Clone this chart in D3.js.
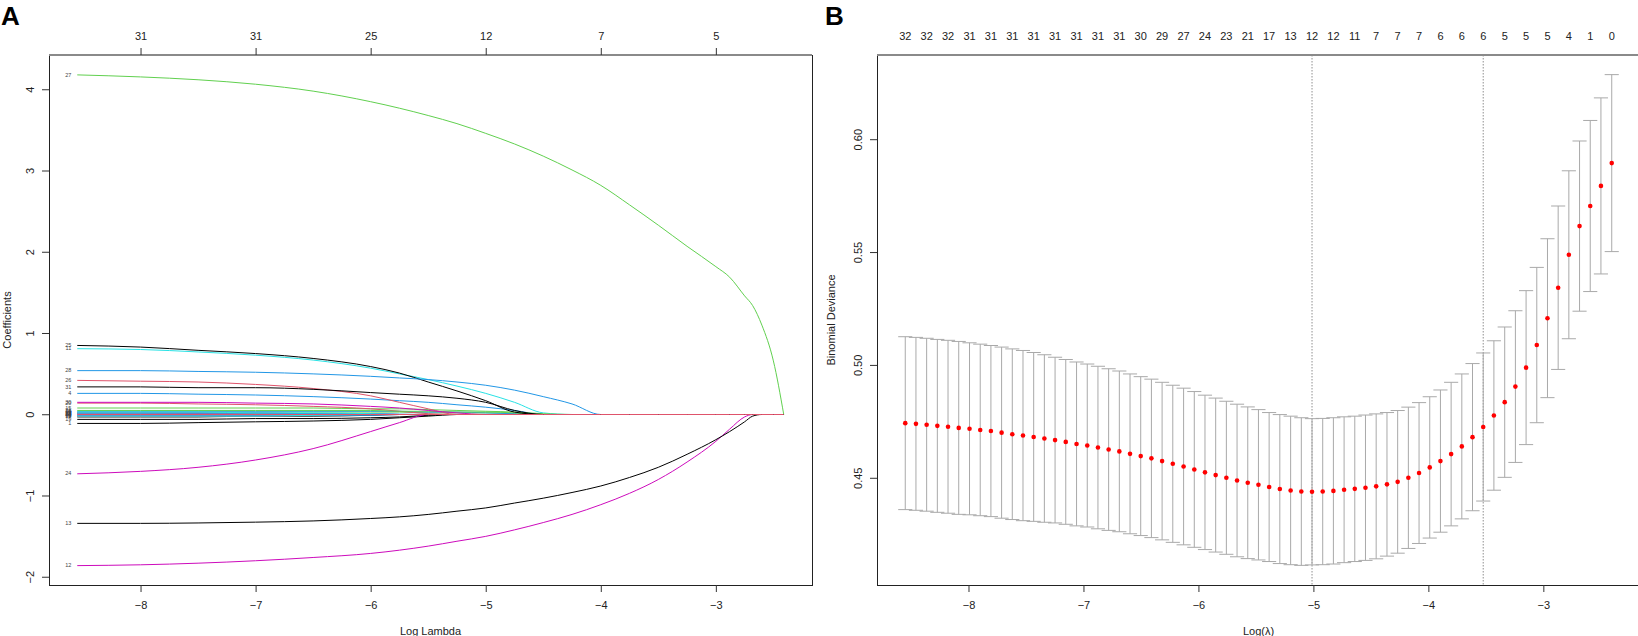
<!DOCTYPE html>
<html><head><meta charset="utf-8">
<script src="https://cdn.jsdelivr.net/npm/d3@7"></script>
<style>body{margin:0;background:#fff}svg{display:block}</style>
</head><body><svg id="c" width="1638" height="636"></svg>
<script>
// ---------------- DATA ----------------
// Panel A: coefficient paths (glmnet), log(lambda) knots
const logLambdaA = [-8.55,-8,-7.5,-7,-6.5,-6,-5.75,-5.5,-5.25,-5,-4.75,-4.5,-4.25,-4,-3.75,-3.5,-3.25,-3,-2.88,-2.75,-2.68,-2.6,-2.5,-2.41];
const varNames = ["1","2","3","4","5","6","7","8","9","10","11","12","13","14","15","16","17","18","19","20","21","22","23","24","25","26","27","28","29","30","31","32"];
const coefPaths = [
 [-0.11,-0.11,-0.10,-0.09,-0.08,-0.06,-0.04,-0.02,0,0,0,0,0,0,0,0,0,0,0,0,0,0,0,0],
 [0.01,0.01,0.01,0.01,0.01,0.005,0,0,0,0,0,0,0,0,0,0,0,0,0,0,0,0,0,0],
 [0.01,0.01,0.01,0.01,0,0,0,0,0,0,0,0,0,0,0,0,0,0,0,0,0,0,0,0],
 [0.26,0.26,0.25,0.24,0.22,0.19,0.17,0.15,0.12,0.09,0.05,0,0,0,0,0,0,0,0,0,0,0,0,0],
 [0.01,0.01,0.01,0.005,0,0,0,0,0,0,0,0,0,0,0,0,0,0,0,0,0,0,0,0],
 [-0.01,-0.01,-0.01,-0.01,-0.005,0,0,0,0,0,0,0,0,0,0,0,0,0,0,0,0,0,0,0],
 [-0.03,-0.03,-0.03,-0.02,-0.02,-0.01,0,0,0,0,0,0,0,0,0,0,0,0,0,0,0,0,0,0],
 [-0.02,-0.02,-0.02,-0.02,-0.01,0,0,0,0,0,0,0,0,0,0,0,0,0,0,0,0,0,0,0],
 [0.03,0.03,0.03,0.03,0.03,0.03,0.03,0.02,0.02,0.02,0.01,0,0,0,0,0,0,0,0,0,0,0,0,0],
 [0.04,0.04,0.04,0.04,0.04,0.04,0.04,0.03,0.03,0.02,0.01,0,0,0,0,0,0,0,0,0,0,0,0,0],
 [0.81,0.80,0.77,0.73,0.67,0.57,0.50,0.43,0.35,0.26,0.15,0.02,0,0,0,0,0,0,0,0,0,0,0,0],
 [-1.86,-1.85,-1.83,-1.80,-1.76,-1.71,-1.67,-1.62,-1.56,-1.50,-1.42,-1.33,-1.23,-1.11,-0.97,-0.80,-0.585,-0.33,-0.18,-0.03,0,0,0,0],
 [-1.34,-1.34,-1.335,-1.325,-1.31,-1.28,-1.26,-1.23,-1.19,-1.15,-1.09,-1.03,-0.96,-0.88,-0.775,-0.65,-0.49,-0.31,-0.21,-0.09,-0.02,0,0,0],
 [0.005,0.005,0.005,0,0,0,0,0,0,0,0,0,0,0,0,0,0,0,0,0,0,0,0,0],
 [0.08,0.08,0.08,0.08,0.08,0.07,0.07,0.06,0.05,0.04,0.03,0.01,0,0,0,0,0,0,0,0,0,0,0,0],
 [-0.01,-0.01,-0.01,-0.01,-0.01,-0.01,0,0,0,0,0,0,0,0,0,0,0,0,0,0,0,0,0,0],
 [-0.02,-0.02,-0.02,-0.02,-0.01,0,0,0,0,0,0,0,0,0,0,0,0,0,0,0,0,0,0,0],
 [0.02,0.02,0.02,0.02,0.01,0.01,0,0,0,0,0,0,0,0,0,0,0,0,0,0,0,0,0,0],
 [-0.06,-0.06,-0.06,-0.05,-0.05,-0.04,-0.03,-0.01,0,0,0,0,0,0,0,0,0,0,0,0,0,0,0,0],
 [0.14,0.14,0.13,0.12,0.10,0.07,0.04,0.01,0,0,0,0,0,0,0,0,0,0,0,0,0,0,0,0],
 [0.05,0.05,0.05,0.05,0.05,0.05,0.04,0.04,0.03,0.03,0.02,0,0,0,0,0,0,0,0,0,0,0,0,0],
 [0.02,0.02,0.02,0.02,0.01,0.01,0.005,0,0,0,0,0,0,0,0,0,0,0,0,0,0,0,0,0],
 [0.003,0.003,0,0,0,0,0,0,0,0,0,0,0,0,0,0,0,0,0,0,0,0,0,0],
 [-0.73,-0.70,-0.65,-0.56,-0.42,-0.21,-0.10,0,0,0,0,0,0,0,0,0,0,0,0,0,0,0,0,0],
 [0.85,0.83,0.79,0.75,0.69,0.59,0.51,0.40,0.29,0.17,0.03,0,0,0,0,0,0,0,0,0,0,0,0,0],
 [0.42,0.41,0.40,0.37,0.32,0.23,0.15,0.07,0,0,0,0,0,0,0,0,0,0,0,0,0,0,0,0],
 [4.18,4.155,4.12,4.065,3.98,3.85,3.77,3.68,3.58,3.46,3.33,3.18,3.01,2.82,2.58,2.33,2.07,1.82,1.69,1.46,1.34,1.10,0.66,0],
 [0.54,0.54,0.53,0.52,0.50,0.47,0.45,0.43,0.40,0.36,0.30,0.22,0.13,0,0,0,0,0,0,0,0,0,0,0],
 [0.03,0.03,0.03,0.02,0.02,0.01,0,0,0,0,0,0,0,0,0,0,0,0,0,0,0,0,0,0],
 [0.15,0.15,0.15,0.14,0.13,0.10,0.08,0.05,0.02,0,0,0,0,0,0,0,0,0,0,0,0,0,0,0],
 [0.34,0.34,0.33,0.33,0.31,0.27,0.25,0.23,0.20,0.15,0.05,0,0,0,0,0,0,0,0,0,0,0,0,0],
 [0,0,0,0,0,0,0,0,0,0,0,0,0,0,0,0,0,0,0,0,0,0,0,0]
];
const xTicks = [-8,-7,-6,-5,-4,-3];
const dfLabelsA = [31,31,25,12,7,5];
const yTicksA = [-2,-1,0,1,2,3,4];

// Panel B: cross-validation curve
const logLambdaB = [
 -8.550,-8.457,-8.364,-8.271,-8.178,-8.085,-7.991,-7.898,-7.805,-7.712,
 -7.619,-7.526,-7.433,-7.340,-7.247,-7.154,-7.060,-6.967,-6.874,-6.781,
 -6.688,-6.595,-6.502,-6.409,-6.316,-6.223,-6.129,-6.036,-5.943,-5.850,
 -5.757,-5.664,-5.571,-5.478,-5.385,-5.292,-5.198,-5.105,-5.012,-4.919,
 -4.826,-4.733,-4.640,-4.547,-4.454,-4.360,-4.267,-4.174,-4.081,-3.988,
 -3.895,-3.802,-3.709,-3.616,-3.523,-3.430,-3.336,-3.243,-3.150,-3.057,
 -2.964,-2.871,-2.778,-2.685,-2.592,-2.499,-2.405];
const cvm = [
 0.4742,0.4739,0.4735,0.4730,0.4726,0.4721,0.4717,0.4712,0.4707,0.4700,
 0.4693,0.4687,0.4681,0.4674,0.4667,0.4659,0.4650,0.4643,0.4634,0.4625,
 0.4617,0.4606,0.4596,0.4586,0.4574,0.4562,0.4550,0.4537,0.4524,0.4512,
 0.4500,0.4488,0.4478,0.4469,0.4459,0.4450,0.4444,0.4439,0.4438,0.4439,
 0.4442,0.4447,0.4451,0.4456,0.4462,0.4471,0.4482,0.4500,0.4521,0.4546,
 0.4574,0.4605,0.4639,0.4680,0.4725,0.4776,0.4835,0.4904,0.4988,0.5088,
 0.5207,0.5342,0.5488,0.5615,0.5704,0.5793,0.5894];
const cvsd = [
 0.0383,0.0383,0.0383,0.0383,0.0383,0.0383,0.0381,0.0380,0.0379,0.0379,
 0.0378,0.0377,0.0374,0.0371,0.0367,0.0365,0.0363,0.0361,0.0360,0.0358,
 0.0356,0.0354,0.0352,0.0351,0.0349,0.0348,0.0347,0.0345,0.0342,0.0341,
 0.0339,0.0338,0.0336,0.0333,0.0330,0.0330,0.0329,0.0327,0.0324,0.0324,
 0.0324,0.0323,0.0322,0.0322,0.0321,0.0318,0.0316,0.0313,0.0312,0.0313,
 0.0315,0.0318,0.0321,0.0326,0.0328,0.0331,0.0333,0.0336,0.0341,0.0344,
 0.0352,0.0362,0.0372,0.0377,0.0379,0.0390,0.0392];
const nzB = [
 32,32,32,32,32,31,31,31,31,31,
 31,31,31,31,31,31,31,31,31,31,
 31,31,30,29,29,28,27,25,24,24,
 23,22,21,19,17,15,13,12,12,12,
 12,12,11,9,7,7,7,7,7,6,
 6,6,6,6,6,6,5,5,5,5,
 5,5,4,2,1,1,0];
const yTicksB = [0.45,0.50,0.55,0.60];
const rPalette = ["#000000","#DF536B","#61D04F","#2297E6","#28E2E5","#CD0BBC"];

// ---------------- LAYOUT ----------------
const FONT = '"Liberation Sans", Arial, Helvetica, sans-serif';
const TOP = 55, BOTTOM = 585;
const A = {left:49, right:812};
const B = {left:877, right:1640};
const svg = d3.select("#c");
svg.append("rect").attr("width",1638).attr("height",636).attr("fill","#fff");

function pad(ext){ const r = ext[1]-ext[0]; return [ext[0]-0.04*r, ext[1]+0.04*r]; }

function frame(g, P){
  g.append("rect").attr("x",P.left+0.5).attr("y",TOP+0.5)
   .attr("width",P.right-P.left).attr("height",BOTTOM-TOP)
   .attr("fill","none").attr("stroke","#222").attr("stroke-width",1);
  g.append("line").attr("x1",P.left).attr("x2",P.right).attr("y1",TOP).attr("y2",TOP)
   .attr("stroke","#8a8a8a").attr("stroke-width",2);
}
function styleAxis(g){
  g.select(".domain").remove();
  g.selectAll(".tick line").attr("stroke","#333").attr("stroke-width",1);
  g.selectAll(".tick text").attr("font-family",FONT).attr("font-size",11).attr("fill","#222");
}
function bottomAxis(g, x){
  const ax = g.append("g").attr("transform",`translate(0,${BOTTOM})`)
    .call(d3.axisBottom(x).tickValues(xTicks).tickSize(7).tickFormat(d3.format("d")));
  styleAxis(ax);
  ax.selectAll(".tick text").attr("y",20).attr("dy","0.35em");
}
function leftAxis(g, y, P, ticks, fmt){
  const ax = g.append("g").attr("transform",`translate(${P.left},0)`)
    .call(d3.axisLeft(y).tickValues(ticks).tickSize(7).tickFormat(fmt));
  styleAxis(ax);
  ax.selectAll(".tick text").attr("x",null).attr("dy","0.35em")
    .attr("text-anchor","middle").attr("transform","translate(-19,0) rotate(-90)");
}
function titles(g, P, xt, yt, yOff){
  g.append("text").attr("x",(P.left+P.right)/2).attr("y",631).attr("dy","0.35em")
   .attr("text-anchor","middle").attr("font-family",FONT).attr("font-size",11).attr("fill","#222").text(xt);
  g.append("text").attr("transform",`translate(${P.left-yOff},${(TOP+BOTTOM)/2}) rotate(-90)`)
   .attr("dy","0.35em").attr("text-anchor","middle").attr("font-family",FONT).attr("font-size",11)
   .attr("fill","#222").text(yt);
}

// ---------------- PANEL A ----------------
const gA = svg.append("g");
const xA = d3.scaleLinear().domain(pad(d3.extent(logLambdaA))).range([A.left, A.right]);
const yA = d3.scaleLinear().domain(pad(d3.extent(coefPaths.flat()))).range([BOTTOM, TOP]);
// sub-pixel shift so the zero line sits on a pixel row (crisp, like the reference)
const yShift = (Math.round(yA(0)-0.5)+0.5) - yA(0);
const lineA = d3.line().x((d,i)=>xA(logLambdaA[i])).y(d=>yA(d)+yShift).curve(d3.curveMonotoneX);
gA.append("g").selectAll("path").data(coefPaths).join("path")
  .attr("d",lineA).attr("fill","none")
  .attr("stroke",(d,i)=>rPalette[i%6]).attr("stroke-width",1);
gA.append("g").selectAll("text").data(coefPaths).join("text")
  .attr("x",xA(logLambdaA[0])-6).attr("y",d=>yA(d[0])).attr("dy","0.35em")
  .attr("text-anchor","end").attr("font-family",FONT).attr("font-size",5.5).attr("fill","#444")
  .text((d,i)=>varNames[i]);
frame(gA, A);
bottomAxis(gA, xA);
leftAxis(gA, yA, A, yTicksA, d3.format("d"));
const topA = gA.append("g").attr("transform",`translate(0,${TOP})`)
  .call(d3.axisTop(xA).tickValues(xTicks).tickSize(7).tickFormat((d,i)=>dfLabelsA[i]));
styleAxis(topA);
topA.selectAll(".tick text").attr("y",-19).attr("dy","0.35em");
titles(gA, A, "Log Lambda", "Coefficients", 42);
svg.append("text").attr("x",1).attr("y",25).attr("font-family",FONT).attr("font-weight","bold")
  .attr("font-size",26).attr("fill","#000").text("A");

// ---------------- PANEL B ----------------
const gB = svg.append("g");
const xB = d3.scaleLinear().domain(pad(d3.extent(logLambdaB))).range([B.left, B.right]);
const cvup = cvm.map((m,i)=>m+cvsd[i]);
const cvlo = cvm.map((m,i)=>m-cvsd[i]);
const yB = d3.scaleLinear().domain(pad([d3.min(cvlo), d3.max(cvup)])).range([BOTTOM, TOP]);
const barw = 0.01*(d3.max(logLambdaB)-d3.min(logLambdaB));
const iMin = d3.minIndex(cvm);
const thresh = cvm[iMin] + cvsd[iMin];
const log1se = d3.max(logLambdaB.filter((l,i)=>cvm[i] <= thresh));
const logMin = logLambdaB[iMin];
[logMin, log1se].forEach(v=>{
  gB.append("line").attr("x1",xB(v)).attr("x2",xB(v)).attr("y1",TOP).attr("y2",BOTTOM)
    .attr("stroke","#8f8f8f").attr("stroke-width",1).attr("stroke-dasharray","1.5,1.5");
});
const eb = gB.append("g").attr("stroke","#a9a9a9").attr("stroke-width",1);
logLambdaB.forEach((l,i)=>{
  eb.append("line").attr("x1",xB(l)).attr("x2",xB(l)).attr("y1",yB(cvup[i])).attr("y2",yB(cvlo[i]));
  eb.append("line").attr("x1",xB(l-barw)).attr("x2",xB(l+barw)).attr("y1",yB(cvup[i])).attr("y2",yB(cvup[i]));
  eb.append("line").attr("x1",xB(l-barw)).attr("x2",xB(l+barw)).attr("y1",yB(cvlo[i])).attr("y2",yB(cvlo[i]));
});
gB.append("g").selectAll("circle").data(cvm).join("circle")
  .attr("cx",(d,i)=>xB(logLambdaB[i])).attr("cy",d=>yB(d)).attr("r",2.3).attr("fill","#ff0000");
frame(gB, B);
bottomAxis(gB, xB);
leftAxis(gB, yB, B, yTicksB, d3.format(".2f"));
gB.append("g").selectAll("text").data(nzB.map((n,i)=>({n,i})).filter(d=>d.i%2===0)).join("text")
  .attr("x",d=>xB(logLambdaB[d.i])).attr("y",36).attr("dy","0.35em").attr("text-anchor","middle")
  .attr("font-family",FONT).attr("font-size",11).attr("fill","#222").text(d=>d.n);
titles(gB, B, "Log(\u03bb)", "Binomial Deviance", 46);
svg.append("text").attr("x",825).attr("y",25).attr("font-family",FONT).attr("font-weight","bold")
  .attr("font-size",26).attr("fill","#000").text("B");
</script></body></html>
